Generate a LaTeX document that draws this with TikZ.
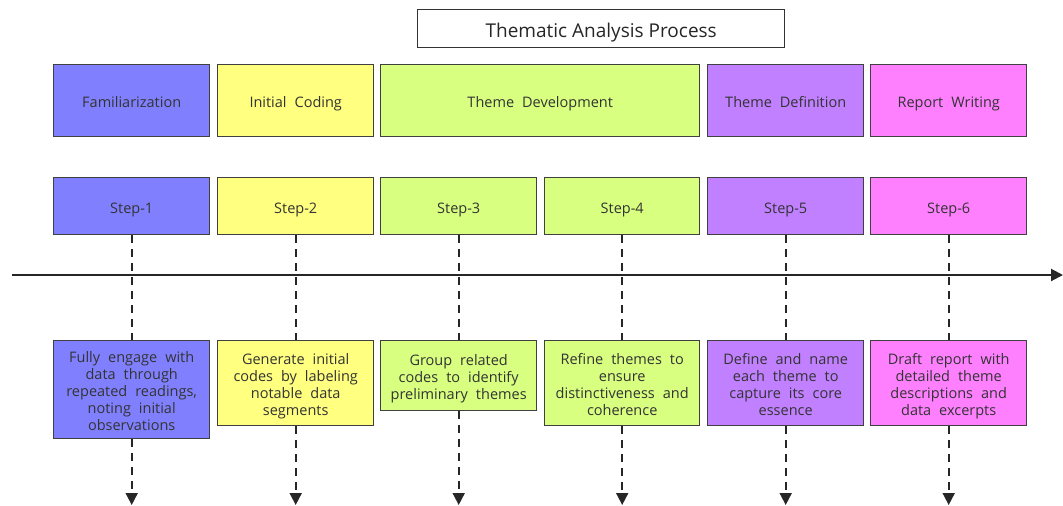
\documentclass[tikz,border=0pt]{standalone}
\usepackage{fontspec}
\setmainfont{Open Sans}
\usetikzlibrary{arrows.meta}
\definecolor{cblue}{HTML}{8080FF}
\definecolor{cyellow}{HTML}{FFFF80}
\definecolor{cgreen}{HTML}{D8FF80}
\definecolor{cpurple}{HTML}{C080FF}
\definecolor{cpink}{HTML}{FF80FF}
\definecolor{cedge}{HTML}{404040}
\newcommand\widesp{\spaceskip=0.55em plus 0.2em\relax}
\newcommand\dl[1]{\begin{tabular}[t]{@{}c@{}}#1\end{tabular}}
\begin{document}
\begin{tikzpicture}[x=1pt,y=-1pt,
  box/.style={draw=cedge,line width=1.4pt,inner sep=0pt,anchor=north west,
    font={\fontsize{14.5}{17}\selectfont\widesp},text=black!80},
  one/.style={text height=10pt,text depth=0pt},
  desc/.style={box,text height=18pt,text depth={(#1-1)*17pt+5.1pt}},
  conn/.style={line width=1.8pt,dash pattern=on 8pt off 6pt,black!85},
  tip/.style={-{Triangle[length=12pt,width=12pt]}}
]
\useasboundingbox (0,0) rectangle (1063,506);
% title
\node[draw=black!80,line width=1.4pt,minimum width=367pt,minimum height=38pt,anchor=north west,
  inner sep=0pt,text height=13pt,text depth=0pt,
  font=\fontsize{19}{21}\selectfont,text=black!85] (title) at (417,9) {\raisebox{-2.5pt}{Thematic Analysis Process}};
% phase boxes
\node[box,one,fill=cblue,minimum width=156pt,minimum height=72pt] (p1) at (53,64) {\raisebox{-2pt}{Familiarization}};
\node[box,one,fill=cyellow,minimum width=156pt,minimum height=72pt] (p2) at (217,64) {\raisebox{-2pt}{Initial Coding}};
\node[box,one,fill=cgreen,minimum width=319pt,minimum height=72pt] (p3) at (380,64) {\raisebox{-2pt}{Theme Development}};
\node[box,one,fill=cpurple,minimum width=156pt,minimum height=72pt] (p4) at (707,64) {\raisebox{-2pt}{Theme Definition}};
\node[box,one,fill=cpink,minimum width=156pt,minimum height=72pt] (p5) at (870,64) {\raisebox{-2pt}{Report Writing}};
% step boxes
\node[box,one,fill=cblue,minimum width=156pt,minimum height=57pt] (s1) at (53,177) {\raisebox{-2.5pt}{Step-1}};
\node[box,one,fill=cyellow,minimum width=156pt,minimum height=57pt] (s2) at (217,177) {\raisebox{-2.5pt}{Step-2}};
\node[box,one,fill=cgreen,minimum width=156pt,minimum height=57pt] (s3) at (380,177) {\raisebox{-2.5pt}{Step-3}};
\node[box,one,fill=cgreen,minimum width=155pt,minimum height=57pt] (s4) at (544,177) {\raisebox{-2.5pt}{Step-4}};
\node[box,one,fill=cpurple,minimum width=156pt,minimum height=57pt] (s5) at (707,177) {\raisebox{-2.5pt}{Step-5}};
\node[box,one,fill=cpink,minimum width=156pt,minimum height=57pt] (s6) at (870,177) {\raisebox{-2.5pt}{Step-6}};
% timeline
\coordinate (tl0) at (12,275);
\coordinate (tl1) at (1063,275);
\draw[line width=2pt,black!85,-{Triangle[length=12pt,width=12pt]}] (tl0) -- (tl1);
% description boxes
\node[desc=5,fill=cblue,minimum width=156pt,minimum height=98pt] (d1) at (53,340) {\dl{Fully engage with\\data through\\repeated readings,\\noting initial\\observations}};
\node[desc=4,fill=cyellow,minimum width=156pt,minimum height=85pt] (d2) at (217,340) {\dl{Generate initial\\codes by labeling\\notable data\\segments}};
\node[desc=3,fill=cgreen,minimum width=156pt,minimum height=70pt] (d3) at (380,340) {\dl{Group related\\codes to identify\\preliminary themes}};
\node[desc=4,fill=cgreen,minimum width=155pt,minimum height=85pt] (d4) at (544,340) {\dl{Refine themes to\\ensure\\distinctiveness and\\coherence}};
\node[desc=4,fill=cpurple,minimum width=156pt,minimum height=85pt] (d5) at (707,340) {\dl{Define and name\\each theme to\\capture its core\\essence}};
\node[desc=4,fill=cpink,minimum width=156pt,minimum height=85pt] (d6) at (870,340) {\dl{Draft report with\\detailed theme\\descriptions and\\data excerpts}};
% connectors
\foreach \i in {1,...,6}{
  \coordinate (e\i) at (s\i.south |- 0,505);
  \draw[conn] (s\i.south) -- (d\i.north);
  \draw[conn,tip] (d\i.south) -- (e\i);
}
\end{tikzpicture}
\end{document}
